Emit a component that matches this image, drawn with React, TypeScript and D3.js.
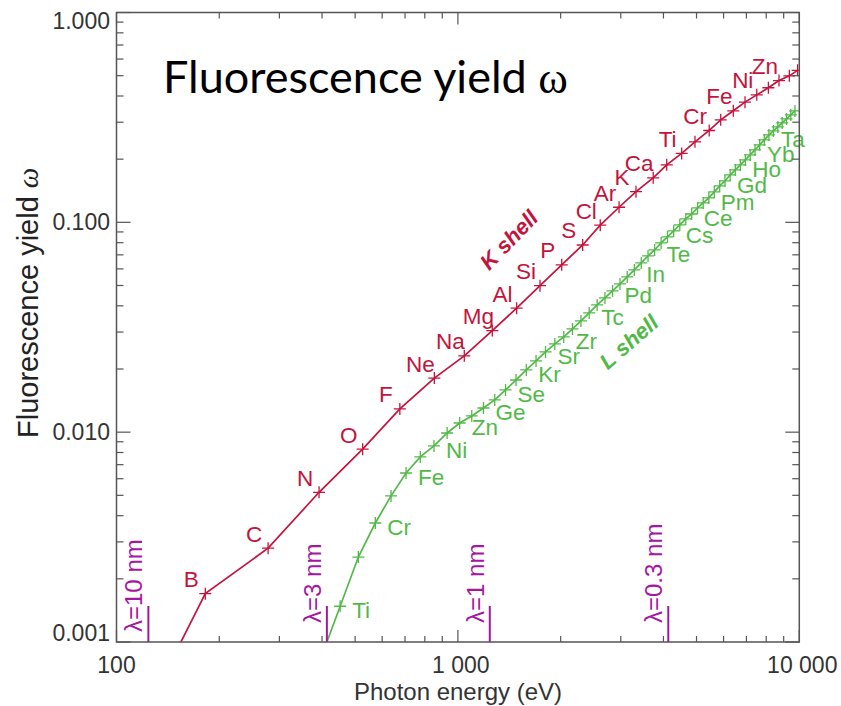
import React from 'react';
import * as d3 from 'd3';

// ---- data ----
const kElements = ['Be','B','C','N','O','F','Ne','Na','Mg','Al','Si','P','S','Cl','Ar','K','Ca','Sc','Ti','V','Cr','Mn','Fe','Co','Ni','Cu','Zn','Ga','Ge'];
const kEnergy = [108.5,182,278,392,526,676,853,1044,1261,1486,1740,2014,2320,2612,2965,3324,3733,4089,4523,4948,5446,5886,6408,6934,7506,8118,8720,9350,9886];
const kOmega = [0.00032,0.0017,0.0028,0.00517,0.0083,0.0129,0.0181,0.0231,0.0305,0.039,0.0499,0.0627,0.078,0.0969,0.118,0.14,0.163,0.188,0.213,0.242,0.274,0.308,0.34,0.374,0.405,0.438,0.474,0.499,0.53];
const kLabeled = ['B','C','N','O','F','Ne','Na','Mg','Al','Si','P','S','Cl','Ar','K','Ca','Ti','Cr','Fe','Ni','Zn'];

const lElements = ['Sc','Ti','V','Cr','Mn','Fe','Co','Ni','Cu','Zn','Ga','Ge','As','Se','Br','Kr','Rb','Sr','Y','Zr','Nb','Mo','Tc','Ru','Rh','Pd','Ag','Cd','In','Sn','Sb','Te','I','Xe','Cs','Ba','La','Ce','Pr','Nd','Pm','Sm','Eu','Gd','Tb','Dy','Ho','Er','Tm','Yb','Lu','Hf','Ta','W','Re','Os','Ir','Pt','Au'];
const lEnergy = [395,452,511,573,637,705,776,851,930,1012,1098,1188,1282,1379,1480,1586,1694,1806,1923,2042,2166,2293,2424,2558,2696,2838,2984,3133,3287,3444,3605,3769,3938,4110,4286,4466,4651,4840,5034,5230,5432,5636,5846,6057,6273,6495,6720,6949,7180,7416,7655,7899,8146,8398,8652,8911,9175,9442,9713];
const lOmega = [0.00082,0.00148,0.00254,0.00369,0.00497,0.00639,0.00762,0.0086,0.00991,0.01106,0.01195,0.01304,0.01424,0.01589,0.01773,0.01979,0.02185,0.02412,0.02633,0.02844,0.03104,0.03388,0.037,0.0404,0.04362,0.0471,0.05087,0.05493,0.05931,0.06404,0.06915,0.07385,0.07975,0.08518,0.09099,0.09719,0.1038,0.1096,0.1171,0.1238,0.1307,0.1396,0.1491,0.1575,0.1682,0.1777,0.1877,0.1983,0.2096,0.2214,0.2338,0.2471,0.261,0.2727,0.2849,0.2977,0.3111,0.325,0.3396];
const lLabeled = ['Ti','Cr','Fe','Ni','Zn','Ge','Se','Kr','Sr','Zr','Tc','Pd','In','Te','Cs','Ce','Pm','Gd','Ho','Yb','Ta'];

const wavelengthsNm = [10, 3, 1, 0.3];
const xTickLabels = ['100', '1 000', '10 000'];
const yTickLabels = ['0.001', '0.010', '0.100', '1.000'];

// ---- layout ----
const W = 841, H = 706;
const L = 116.5, R = 799.3, T = 12.5, B = 642;
const KCOL = '#c3143d';
const LCOL = '#52b948';
const PCOL = '#a5179f';
const AXC = '#555';
const SANS = '"Liberation Sans", Arial, Helvetica, sans-serif';

export default function App() {
  const x = d3.scaleLog().domain([100, 10000]).range([L, R]);
  const y = d3.scaleLog().domain([0.001, 1]).range([B, T]);

  const xt = x.ticks();
  const yt = y.ticks();
  const isMajor = (v: number) => Math.abs(Math.log10(v) - Math.round(Math.log10(v))) < 1e-9;

  const kPts = kElements.map((el, i) => ({ el, e: kEnergy[i], w: kOmega[i] }));
  const lPts = lElements.map((el, i) => ({ el, e: lEnergy[i], w: lOmega[i] }));
  const line = d3.line<{ e: number; w: number }>().x(d => x(d.e)).y(d => y(d.w));

  const plus = (px: number, py: number) => `M${px - 6},${py}h12M${px},${py - 6}v12`;

  return (
    <svg width={W} height={H} style={{ position: 'absolute', left: 0, top: 0, background: '#fff' }} fontFamily={SANS}>
      <defs>
        <clipPath id="plot"><rect x={L} y={T} width={R - L} height={B - T} /></clipPath>
      </defs>
      <rect x={0} y={0} width={W} height={H} fill="#fff" />

      {/* data */}
      <g clipPath="url(#plot)">
        <path d={line(kPts) || ''} fill="none" stroke={KCOL} strokeWidth={1.7} />
        <path d={line(lPts) || ''} fill="none" stroke={LCOL} strokeWidth={1.7} />
        {kPts.map((p, i) => <path key={'k' + i} d={plus(x(p.e), y(p.w))} stroke={KCOL} strokeWidth={1.3} fill="none" />)}
        {lPts.map((p, i) => <path key={'l' + i} d={plus(x(p.e), y(p.w))} stroke={LCOL} strokeWidth={1.3} fill="none" />)}
      </g>

      {/* element labels */}
      {kPts.filter(p => kLabeled.includes(p.el)).map(p => (
        <text key={'kt' + p.el} x={x(p.e) - 14} y={y(p.w) - 6.5} textAnchor="middle" fontSize={22.5} fill={KCOL}>{p.el}</text>
      ))}
      {lPts.filter(p => lLabeled.includes(p.el)).map(p => (
        <text key={'lt' + p.el} x={x(p.e) + 12} y={y(p.w) + 12} textAnchor="start" fontSize={22.5} fill={LCOL}>{p.el}</text>
      ))}

      <text transform="translate(509,240) rotate(-46)" textAnchor="middle" dominantBaseline="central" fontSize={22} fontWeight="bold" fontStyle="italic" fill={KCOL}>K shell</text>
      <text transform="translate(629,342) rotate(-41)" textAnchor="middle" dominantBaseline="central" fontSize={22} fontWeight="bold" fontStyle="italic" fill={LCOL}>L shell</text>

      {/* wavelength markers */}
      {wavelengthsNm.map((lam, i) => {
        const px = x(1239.84 / lam);
        const sy = i === 0 ? 632 : 623;
        return (
          <g key={'w' + lam}>
            <line x1={px} x2={px} y1={B} y2={606} stroke={PCOL} strokeWidth={2} />
            <text transform={`translate(${px - 6},${sy}) rotate(-90)`} fontSize={24} fill={PCOL}>{`λ=${lam} nm`}</text>
          </g>
        );
      })}

      {/* frame */}
      <rect x={L} y={T} width={R - L} height={B - T} fill="none" stroke={AXC} strokeWidth={1.5} />
      {xt.map((v, i) => {
        const len = isMajor(v) ? 12 : 6;
        return (
          <g key={'xt' + i}>
            <line x1={x(v)} x2={x(v)} y1={B} y2={B - len} stroke={AXC} strokeWidth={1.2} />
            <line x1={x(v)} x2={x(v)} y1={T} y2={T + len} stroke={AXC} strokeWidth={1.2} />
          </g>
        );
      })}
      {yt.map((v, i) => {
        const len = isMajor(v) ? 14 : 7;
        return (
          <g key={'yt' + i}>
            <line x1={L} x2={L + len} y1={y(v)} y2={y(v)} stroke={AXC} strokeWidth={1.2} />
            <line x1={R} x2={R - len} y1={y(v)} y2={y(v)} stroke={AXC} strokeWidth={1.2} />
          </g>
        );
      })}

      {/* tick labels */}
      {[100, 1000, 10000].map((v, i) => (
        <text key={'xl' + v} x={x(v) + (i === 0 ? 0 : 3)} y={673} textAnchor="middle" fontSize={23} fill="#333">{xTickLabels[i]}</text>
      ))}
      {[0.001, 0.01, 0.1, 1].map((v, i) => {
        const shift = i === 0 ? -9 : i === 3 ? 8 : 0;
        return (
          <text key={'yl' + v} x={110} y={y(v) + shift} textAnchor="end" dominantBaseline="central" fontSize={23} fill="#333">{yTickLabels[i]}</text>
        );
      })}

      {/* axis titles */}
      <text x={458} y={700} textAnchor="middle" fontSize={24} fill="#333">Photon energy (eV)</text>
      <text transform="translate(38,438) rotate(-90)" fontSize={29} fill="#222">
        Fluorescence yield <tspan fontFamily='"Liberation Serif", serif' fontStyle="italic">ω</tspan>
      </text>

      {/* title */}
      <text x={163} y={93} fontFamily="Lato, 'Open Sans', sans-serif" fontSize={45} fill="#000">
        Fluorescence yield <tspan fontFamily='"Liberation Serif", serif'>ω</tspan>
      </text>
    </svg>
  );
}
